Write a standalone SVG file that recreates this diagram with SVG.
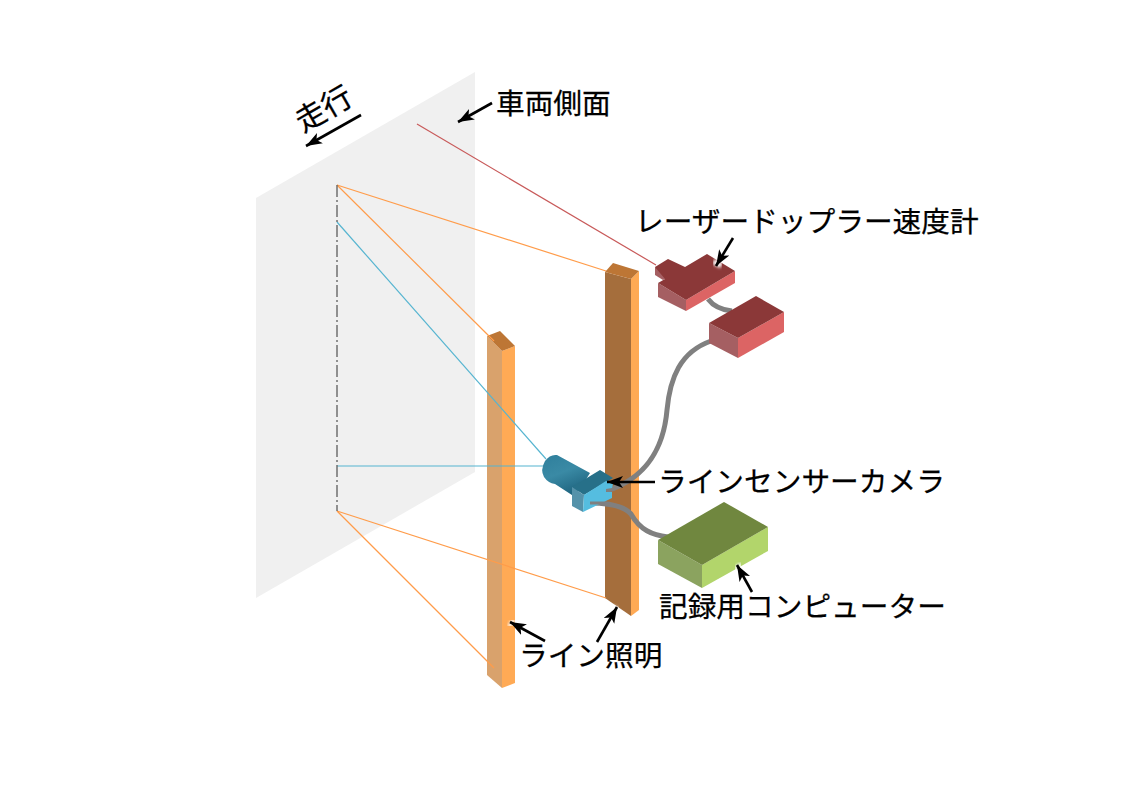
<svg xmlns="http://www.w3.org/2000/svg" width="1123" height="794" viewBox="0 0 1123 794">
<style>
.o{stroke:#ff9c4a;stroke-width:1.2;fill:none}
.b{stroke:#55b4d0;stroke-width:1.2;fill:none}
.c{stroke:#808080;stroke-width:5;fill:none}
.a{stroke:#000;stroke-width:2.6;fill:none;marker-end:url(#ah)}
.h{stroke:#fff;stroke-width:9;fill:none;filter:url(#bl)}
text{font-family:"Noto Sans CJK JP","Noto Sans",sans-serif;font-size:28.7px;font-weight:400;fill:#000;stroke:#000;stroke-width:.25}
</style>
<defs>
<marker id="ah" markerUnits="userSpaceOnUse" markerWidth="18" markerHeight="14" refX="16" refY="6" orient="auto"><path d="M0 0L16 6L0 12L4 6Z" fill="#000"/></marker>
<filter id="bl" x="-100%" y="-100%" width="300%" height="300%"><feGaussianBlur stdDeviation="1.5"/></filter>
<linearGradient id="cyl" x1="0" y1="0" x2="0.45" y2="1"><stop offset="0" stop-color="#2f7f9c"/><stop offset="0.5" stop-color="#3a8aa5"/><stop offset="1" stop-color="#1f6580"/></linearGradient>
</defs>
<g id="wall"><polygon points="256,198 475,72 475,472 256,598" fill="#f0f0f0"/></g>
<g id="light-right">
<polygon points="605,272 631,279 631,616 605,598" fill="#a56e3c"/>
<polygon points="631,279 639,271 639,610 631,616" fill="#ffaa55"/>
<polygon points="605,272 613,263 639,271 631,279" fill="#bd7635"/>
</g>
<g id="light-left">
<polygon points="487,336 502,351 502,688 487,675" fill="#d9a26c"/>
<polygon points="502,351 515,346 515,683 502,688" fill="#ffaa55"/>
<polygon points="487,336 500,331 515,346 502,351" fill="#bd7635"/>
</g>
<g id="connectors">
<path d="M417 124L656 265" stroke="#c85a5a" stroke-width="1.2" fill="none"/>
<path class="o" d="M337 185L606 271"/>
<path class="o" d="M337 185L494 341"/>
<path class="o" d="M337 511L606 598"/>
<path class="o" d="M337 511L494 668"/>
<path class="b" d="M337 222L546 459"/>
<path class="b" d="M337 466L544 466"/>
<path d="M337 185V511" stroke="#666" stroke-width="1.4" stroke-dasharray="12 3 2 3" fill="none"/>
</g>
<g id="cables">
<path class="c" d="M711 341C680 352 670 378 667 410C664 445 648 478 606 491"/>
<path class="c" d="M708 299C714 307 722 310 732 311"/>
<path class="c" d="M590 503C606 503 623 505 631 514C640 530 652 535 668 537"/>
</g>
<g id="camera">
<path d="M590 473L557 455Q550 454 545 461Q540 470 544 477Q548 483 555 484L575 497Z" fill="url(#cyl)"/>
<polygon points="572,487 600,470 613,478 584,495" fill="#277089"/>
<polygon points="572,487 584,495 583,512 572,506" fill="#5592aa"/>
<polygon points="584,495 606,481 613,484 612,488 606,489 606,492 612,492 612,498 583,512" fill="#55bde0"/>
<path class="c" d="M590 503L606 503" style="stroke-width:3"/>
</g>
<g id="sensor">
<polygon points="655,267 655,275 663,280 672,275" fill="#a55f62"/>
<polygon points="658,283 686,300 686,311 658,297" fill="#a55f62"/>
<polygon points="686,300 735,271 735,283 686,311" fill="#dc6464"/>
<polygon points="655,267 668,259 685,267 707,254 735,271 686,300 658,283 665,279" fill="#8b3838"/>
</g>
<g id="controller">
<polygon points="709,323 738,338 738,358 709,343" fill="#a55f62"/>
<polygon points="738,338 784,312 784,332 738,358" fill="#dc6464"/>
<polygon points="709,323 756,296 784,312 738,338" fill="#8b3838"/>
</g>
<g id="computer">
<polygon points="658,540 702,565 702,588 658,564" fill="#8ba35f"/>
<polygon points="702,565 768,527 768,551 702,588" fill="#b2d56b"/>
<polygon points="658,540 724,502 768,527 702,565" fill="#70873f"/>
</g>
<g id="arrows">
<path class="h" d="M618 482L607 482"/>
<path class="h" d="M719 261L716 266"/>
<path class="h" d="M739 568L737 565"/>
<path class="h" d="M513 624L510 622"/>
<path class="h" d="M615 611L617 607"/>
<path class="a" d="M492 103L458 122"/>
<path class="a" d="M361 115L306 146"/>
<path class="a" d="M733 238L716 266"/>
<path class="a" d="M655 482L607 482"/>
<path class="a" d="M752 592L737 565"/>
<path class="a" d="M545 641L510 622"/>
<path class="a" d="M597 642L617 607"/>
</g>
<g id="labels">
<text x="496" y="114">車両側面</text>
<text x="635" y="232">レーザードップラー速度計</text>
<text x="658" y="492">ラインセンサーカメラ</text>
<text x="659" y="617">記録用コンピューター</text>
<text x="519" y="666">ライン照明</text>
<text transform="translate(303 133) rotate(-30)" style="font-size:30px">走行</text>
</g>
</svg>
